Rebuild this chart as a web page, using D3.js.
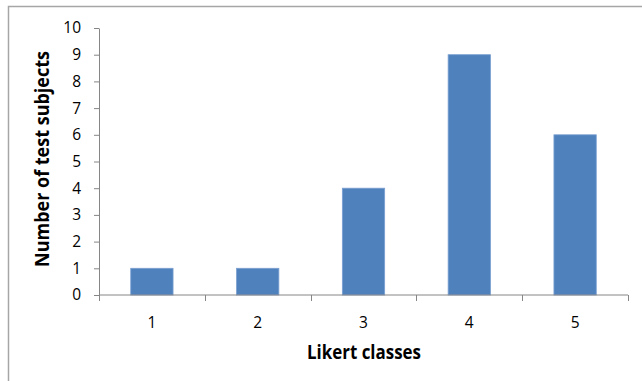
<!DOCTYPE html>
<html>
<head>
<meta charset="utf-8">
<script src="https://cdn.jsdelivr.net/npm/d3@7/dist/d3.min.js"></script>
<style>
  html, body { margin: 0; padding: 0; background: #fff; }
  svg { display: block; }
</style>
</head>
<body>
<svg id="chart" width="642" height="381"></svg>
<script>
// Likert survey results: number of subjects per class
const categories = ["1", "2", "3", "4", "5"];
const counts = [1, 1, 4, 9, 6];
const yTicks = [0, 1, 2, 3, 4, 5, 6, 7, 8, 9, 10];

const svg = d3.select("#chart");
const W = 642, H = 381;
const plot = { left: 99, right: 628, top: 28, bottom: 295 };
const axisColor = "#868686";
const font = "'Open Sans', 'Noto Sans', sans-serif";

// outer frame (right and bottom edges run off the canvas)
svg.append("rect")
  .attr("x", 8.5).attr("y", 6.5)
  .attr("width", W + 20).attr("height", H + 20)
  .attr("fill", "none")
  .attr("stroke", "#a6a6a6")
  .attr("stroke-width", 1.5);

const x = d3.scaleBand()
  .domain(categories)
  .range([plot.left, plot.right])
  .paddingInner(0.6)
  .paddingOuter(0.3);

// band edges for the category tick marks
const step = (plot.right - plot.left) / categories.length;

const y = d3.scaleLinear()
  .domain([0, 10])
  .range([plot.bottom, plot.top]);

// bars
svg.append("g")
  .selectAll("rect")
  .data(counts)
  .join("rect")
  .attr("x", (d, i) => x(categories[i]))
  .attr("y", d => y(d))
  .attr("width", x.bandwidth())
  .attr("height", d => y(0) - y(d))
  .attr("fill", "#4f81bd")
  .attr("stroke", "#7a9fd0")
  .attr("stroke-width", 0.8);

// y axis
const yAxis = svg.append("g")
  .attr("transform", `translate(${plot.left},0)`)
  .call(d3.axisLeft(y).tickValues(yTicks).tickSize(5).tickPadding(13).tickSizeOuter(0));
yAxis.select(".domain").attr("stroke", axisColor).attr("stroke-width", 1);
yAxis.selectAll(".tick line").attr("stroke", axisColor);
yAxis.selectAll(".tick text")
  .attr("fill", "#000")
  .style("font-family", font)
  .style("font-size", "15.5px");

// x axis: line with ticks at band boundaries, labels centred in each band
const xAxis = svg.append("g")
  .attr("transform", `translate(0,${plot.bottom})`);
xAxis.append("line")
  .attr("x1", plot.left).attr("x2", plot.right)
  .attr("stroke", axisColor).attr("stroke-width", 1);
xAxis.selectAll(".bound")
  .data(d3.range(categories.length + 1))
  .join("line")
  .attr("class", "bound")
  .attr("x1", i => Math.round(plot.left + i * step) + 0.5)
  .attr("x2", i => Math.round(plot.left + i * step) + 0.5)
  .attr("y1", 0).attr("y2", 6)
  .attr("stroke", axisColor);
xAxis.selectAll(".lab")
  .data(categories)
  .join("text")
  .attr("class", "lab")
  .attr("x", d => x(d) + x.bandwidth() / 2)
  .attr("y", 32.5)
  .attr("text-anchor", "middle")
  .style("font-family", font)
  .style("font-size", "15.5px")
  .text(d => d);

// axis titles
svg.append("text")
  .attr("x", 364).attr("y", 359)
  .attr("text-anchor", "middle")
  .attr("textLength", 114)
  .attr("lengthAdjust", "spacingAndGlyphs")
  .style("font-family", font)
  .style("font-weight", "bold")
  .style("font-size", "19px")
  .text("Likert classes");

svg.append("text")
  .attr("transform", "translate(49,159) rotate(-90)")
  .attr("text-anchor", "middle")
  .attr("textLength", 216)
  .attr("lengthAdjust", "spacingAndGlyphs")
  .style("font-family", font)
  .style("font-weight", "bold")
  .style("font-size", "19px")
  .text("Number of test subjects");
</script>
</body>
</html>
